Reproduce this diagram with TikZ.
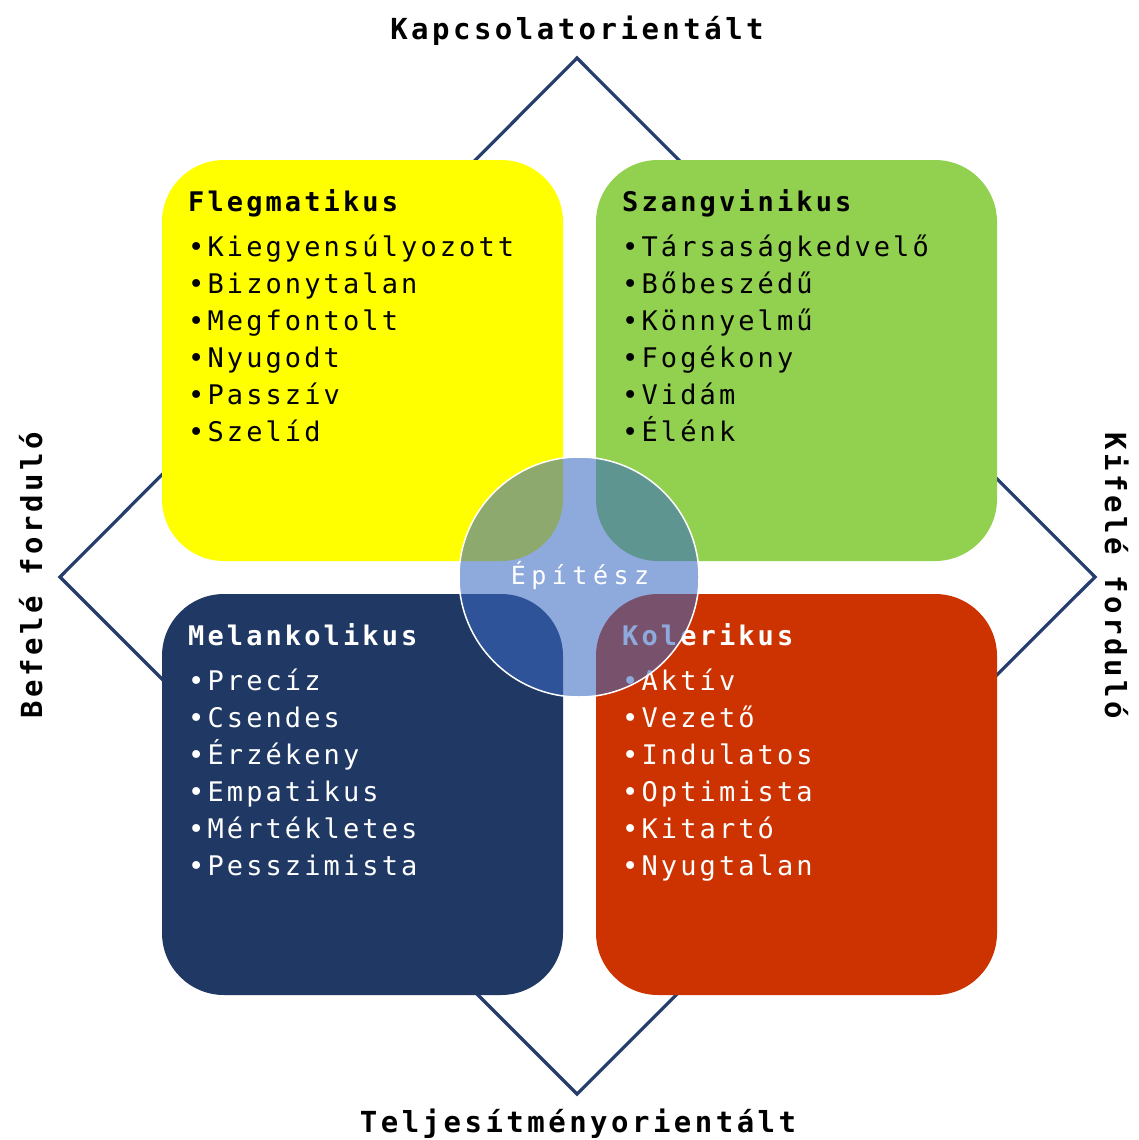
\documentclass[tikz,border=0pt]{standalone}
\usepackage{fontspec}
\newfontfamily\boxfont[LetterSpace=11.5]{DejaVu Sans Mono}
\newfontfamily\axisfont[LetterSpace=12]{DejaVu Sans Mono}
\newfontfamily\epfont[LetterSpace=22]{DejaVu Sans Mono}
\definecolor{cyellow}{RGB}{255,255,0}
\definecolor{cgreen}{RGB}{146,208,80}
\definecolor{cnavy}{RGB}{31,56,100}
\definecolor{cred}{RGB}{204,51,0}
\definecolor{cline}{RGB}{38,62,110}
\definecolor{ccircle}{RGB}{58,105,193}
\tikzset{
  quad/.style={rounded corners=62pt, draw=none},
  ttl/.style={anchor=base west, inner sep=0pt, font=\boxfont\bfseries\fontsize{27}{32}\selectfont},
  itm/.style={anchor=base west, inner sep=0pt, font=\boxfont\fontsize{27}{32}\selectfont},
  axislbl/.style={anchor=base, inner sep=0pt, font=\axisfont\bfseries\fontsize{29}{34}\selectfont},
  diam/.style={draw=cline, line width=3.2pt, line join=miter},
}
\begin{document}
\begin{tikzpicture}[x=1pt,y=-1pt]
\useasboundingbox (0,0) rectangle (1139,1140);
\fill[white] (0,0) rectangle (1139,1140);
% diamond
\coordinate (dt) at (577,58);
\coordinate (dr) at (1095,577);
\coordinate (db) at (577,1094);
\coordinate (dl) at (60,577);
\draw[diam] (dt) -- (dr) -- (db) -- (dl) -- cycle;
% quadrants
\fill[quad, cyellow] (162,160) rectangle (563,561);
\fill[quad, cgreen] (596,160) rectangle (997,561);
\fill[quad, cnavy] (162,594) rectangle (563,995);
\fill[quad, cred] (596,594) rectangle (997,995);
% Flegmatikus
\node[ttl, text=black] (t1) at (188,211) {Flegmatikus};
\foreach \t [count=\k from 0] in {Kiegyensúlyozott,Bizonytalan,Megfontolt,Nyugodt,Passzív,Szelíd}
  \node[itm, text=black] (a\k) at (188,{256+37*\k}) {•\t};
% Szangvinikus
\node[ttl, text=black] (t2) at (622,211) {Szangvinikus};
\foreach \t [count=\k from 0] in {Társaságkedvelő,Bőbeszédű,Könnyelmű,Fogékony,Vidám,Élénk}
  \node[itm, text=black] (b\k) at (622,{256+37*\k}) {•\t};
% Melankolikus
\node[ttl, text=white] (t3) at (188,645) {Melankolikus};
\foreach \t [count=\k from 0] in {Precíz,Csendes,Érzékeny,Empatikus,Mértékletes,Pesszimista}
  \node[itm, text=white] (c\k) at (188,{690+37*\k}) {•\t};
% Kolerikus
\node[ttl, text=white] (t4) at (622,645) {Kolerikus};
\foreach \t [count=\k from 0] in {Aktív,Vezető,Indulatos,Optimista,Kitartó,Nyugtalan}
  \node[itm, text=white] (d\k) at (622,{690+37*\k}) {•\t};
% centre circle
\fill[ccircle, fill opacity=0.57] (579,577) circle (120);
\draw[white, line width=1.5pt] (579,577) circle (120);
\node[anchor=base, inner sep=0pt, text=white, font=\epfont\fontsize{25}{30}\selectfont] (ep) at (580,584) {Építész};
% axis labels
\node[axislbl] (top) at (577,40) {Kapcsolatorientált};
\node[axislbl] (bot) at (578,1132) {Teljesítményorientált};
\node[axislbl, rotate=90] (lft) at (42,575) {Befelé forduló};
\node[axislbl, rotate=-90] (rgt) at (1105,576) {Kifelé forduló};
\end{tikzpicture}
\end{document}
